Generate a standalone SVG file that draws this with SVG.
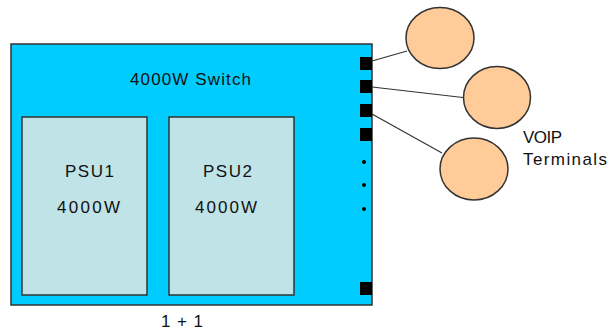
<svg xmlns="http://www.w3.org/2000/svg" width="608" height="333" viewBox="0 0 608 333">
<style>
  text { font-family: "Liberation Sans", Arial, sans-serif; font-size: 17px; fill: #111; }
  .switch { fill: #00CCFF; stroke: #333; stroke-width: 1.5; }
  .psu { fill: #BFE3E6; stroke: #333; stroke-width: 1.5; }
  .term { fill: #FFCC99; stroke: #333; stroke-width: 1.5; }
  .port { fill: #000; }
  .link { stroke: #333; stroke-width: 1.2; fill: none; }
</style>
<rect width="608" height="333" fill="#fff"/>
<g id="switch">
  <rect class="switch" x="11" y="44" width="361" height="261"/>
  <text x="130" y="85" textLength="121" lengthAdjust="spacing">4000W Switch</text>
  <rect class="port" x="360" y="57" width="12" height="13"/>
  <rect class="port" x="360" y="80" width="12" height="13"/>
  <rect class="port" x="360" y="104" width="12" height="13"/>
  <rect class="port" x="360" y="128" width="12" height="13"/>
  <rect class="port" x="360" y="282" width="12" height="13"/>
  <circle cx="364" cy="162" r="2" fill="#000"/>
  <circle cx="364" cy="185" r="2" fill="#000"/>
  <circle cx="364" cy="209" r="2" fill="#000"/>
</g>
<g id="psu1">
  <rect class="psu" x="22" y="117" width="125" height="178"/>
  <text x="65" y="177" textLength="49" lengthAdjust="spacing">PSU1</text>
  <text x="57" y="213" textLength="63" lengthAdjust="spacing">4000W</text>
</g>
<g id="psu2">
  <rect class="psu" x="169" y="117" width="125" height="178"/>
  <text x="203" y="177" textLength="49" lengthAdjust="spacing">PSU2</text>
  <text x="195" y="213" textLength="62" lengthAdjust="spacing">4000W</text>
</g>
<g id="connectors">
  <line class="link" x1="372" y1="61" x2="407" y2="51"/>
  <line class="link" x1="372" y1="87" x2="463" y2="97.5"/>
  <line class="link" x1="372" y1="114" x2="442" y2="153"/>
</g>
<g id="terminal1"><ellipse class="term" cx="440" cy="38" rx="34" ry="30.5"/></g>
<g id="terminal2"><ellipse class="term" cx="497" cy="97.5" rx="33.5" ry="31"/></g>
<g id="terminal3"><ellipse class="term" cx="474" cy="169" rx="34" ry="31"/></g>
<g id="labels">
  <text x="523" y="143" textLength="39" lengthAdjust="spacing">VOIP</text>
  <text x="523" y="165" textLength="84" lengthAdjust="spacing">Terminals</text>
  <text x="161" y="327" textLength="42" lengthAdjust="spacing">1 + 1</text>
</g>
</svg>
